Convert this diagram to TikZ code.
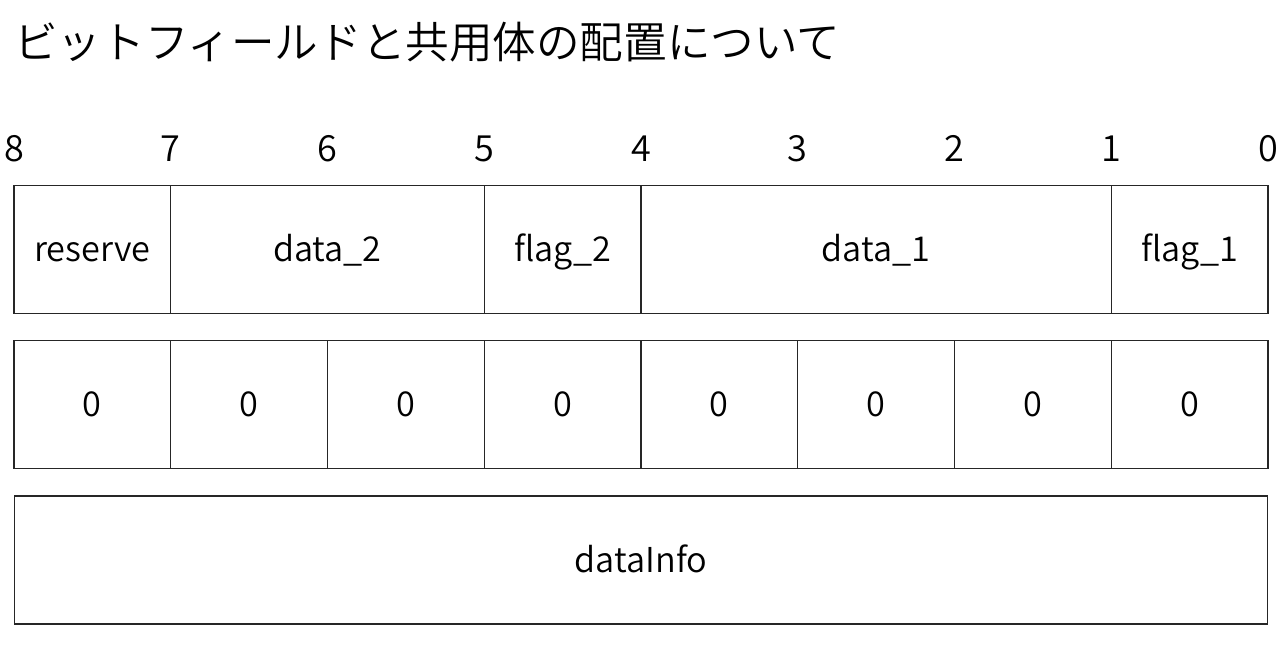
\documentclass[tikz,border=0pt]{standalone}
\usepackage{fontspec}
\setmainfont{Noto Sans CJK JP}[UprightFont=* DemiLight]
\usetikzlibrary{positioning}
\tikzset{
	cell/.style={draw=black!85,line width=0.6pt,inner sep=0pt,minimum height=2.56cm,text height=16pt,text depth=1.8pt,font=\fontsize{19.5}{19.5}\selectfont},
	bitnum/.style={font=\fontsize{20.5}{20.5}\selectfont,inner sep=0pt,text height=15pt,text depth=0pt},
}
\begin{document}
\begin{tikzpicture}[x=0.02cm,y=-0.02cm]
	\useasboundingbox (0,0) rectangle (1280,670);
	\node[anchor=west,inner sep=0pt,font=\fontsize{24.8}{24.8}\selectfont] (title) at (14,42) {ビットフィールドと共用体の配置について};

	% bit numbers
	\foreach \i in {0,...,8}
		\node[bitnum] (bit\i) at ({14+(8-\i)*156.75},148) {\i};

	% bit field
	\node[cell,minimum width=3.135cm] (reserve) at ({14+0.5*156.75},249.5) {reserve};
	\node[cell,minimum width=6.27cm] (data2) at ({14+2*156.75},249.5) {data\_2};
	\node[cell,minimum width=3.135cm] (flag2) at ({14+3.5*156.75},249.5) {flag\_2};
	\node[cell,minimum width=9.405cm] (data1) at ({14+5.5*156.75},249.5) {data\_1};
	\node[cell,minimum width=3.135cm] (flag1) at ({14+7.5*156.75},249.5) {flag\_1};

	% bits
	\foreach \k in {1,...,8}
		\node[cell,minimum width=3.135cm] (zero\k) at ({14+(\k-0.5)*156.75},404.5) {0};

	% union
	\node[cell,minimum width=25.08cm] (datainfo) at (641,560) {dataInfo};
\end{tikzpicture}
\end{document}
